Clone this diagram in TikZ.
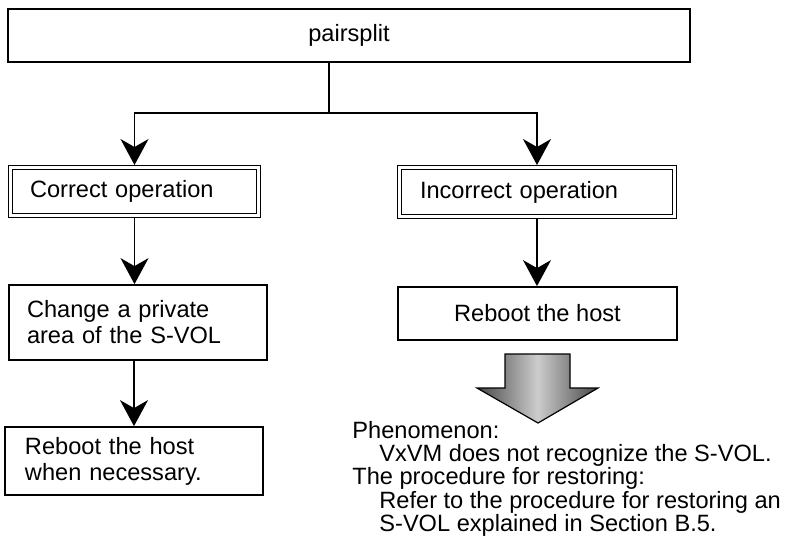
\documentclass[tikz,border=0pt]{standalone}
\usepackage{fontspec}
\setmainfont{Liberation Sans}
\usetikzlibrary{arrows.meta}
\begin{document}
\begin{tikzpicture}[x=0.5pt,y=-0.5pt,
  every node/.style={font=\fontsize{11.8pt}{13pt}\selectfont},
  plainbox/.style={draw, line width=0.9pt, rectangle, inner ysep=0pt},
  dblbox/.style={draw, line width=0.6pt, double, double distance=1.2pt, rectangle, inner ysep=0pt, outer sep=1.2pt},
  conn/.style={line width=0.8pt, -{Stealth[length=13pt,width=14pt,inset=4pt]}},
  stem/.style={line width=0.8pt},
  bigarrow/.style={draw, line width=0.6pt, left color=black!72, right color=black!72, middle color=black!20}
]
\useasboundingbox (0,0) rectangle (786,538);
\node[plainbox, minimum width=341pt, minimum height=26.5pt] (top) at (349,35.5) {pairsplit};
\node[dblbox, minimum width=124.1pt, minimum height=24.1pt, inner xsep=9.8pt, text width=104.5pt, align=left] (correct) at (134.5,191.5) {Correct operation};
\node[dblbox, minimum width=137.6pt, minimum height=24.6pt, inner xsep=10.3pt, text width=117pt, align=left] (incorrect) at (537,192) {Incorrect operation};
\node[plainbox, minimum width=129pt, minimum height=37.5pt, inner xsep=9pt, text width=111pt, align=left] (change) at (138,322.5) {Change a private\\area of the S-VOL};
\node[plainbox, minimum width=129pt, minimum height=34pt, inner xsep=10pt, text width=109pt, align=left] (rnec) at (134,461) {Reboot the host\\when necessary.};
\node[plainbox, minimum width=139.5pt, minimum height=26.5pt] (rright) at (537.5,313.5) {Reboot the host};
\coordinate (split) at (329,113);
\draw[stem] (top.south -| split) -- (split);
\draw[conn] (split) -| (correct.north);
\draw[conn] (split) -| (incorrect.north);
\draw[conn] (correct.south) -- (correct.south |- change.north);
\draw[conn] (rnec.north |- change.south) -- (rnec.north);
\draw[conn] (incorrect.south) -- (incorrect.south |- rright.north);
\draw[bigarrow] (505,354) -- (570,354) -- (570,388) -- (598,388) -- (538,423) -- (477,388) -- (505,388) -- cycle;
\node[anchor=north west, align=left, inner sep=0pt, font=\fontsize{11.8pt}{11.6pt}\selectfont] (pheno) at (352,421) {Phenomenon:\\
\hspace*{13.5pt}VxVM does not recognize the S-VOL.\\
The procedure for restoring:\\
\hspace*{13.5pt}Refer to the procedure for restoring an\\
\hspace*{13.5pt}S-VOL explained in Section B.5.};
\end{tikzpicture}
\end{document}
